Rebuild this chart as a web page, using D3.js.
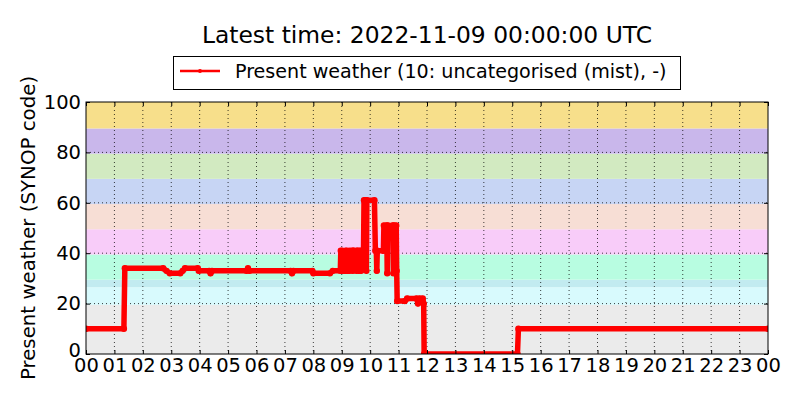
<!DOCTYPE html>
<html>
<head>
<meta charset="utf-8">
<script src="https://cdn.jsdelivr.net/npm/d3@7"></script>
<style>
  body { margin: 0; background: #fff; }
  text { font-family: "DejaVu Sans", sans-serif; fill: #000; }
</style>
</head>
<body>
<div id="chart"></div>
<script>
var obs_times = [
  "00:00","01:20","01:22","02:43","02:50","02:57","03:19","03:24","03:29","03:56",
  "03:58","04:20","04:23","04:26","05:39","05:42","05:45","07:12","07:15","07:18",
  "07:58","08:00","08:35","08:41","08:57","08:58","09:01","09:02","09:07","09:08",
  "09:11","09:12","09:16","09:17","09:22","09:23","09:24","09:26","09:31","09:32",
  "09:33","09:36","09:37","09:40","09:41","09:45","09:46","09:47","09:51","09:52",
  "09:53","10:09","10:11","10:13","10:14","10:15","10:28","10:29","10:35","10:36",
  "10:37","10:48","10:49","10:50","10:55","10:56","10:57","11:13","11:18","11:38",
  "11:41","11:44","11:51","11:53","11:54","15:11","15:13","24:00"
];
var obs_codes = [
  10,10,34,34,33,32,32,33,34,34,
  33,33,32,33,33,34,33,33,32,33,
  33,32,32,33,33,41,41,33,33,41,
  41,33,33,41,41,33,41,41,33,41,
  41,33,41,41,33,41,41,61,61,33,
  61,61,41,41,33,41,41,51,51,32,
  51,51,32,51,51,33,21,21,22,22,
  20,22,22,20,0,0,10,10
];

// background bands for the SYNOP code groups
var band_lo = [0, 19.5, 26.5, 29.5, 39.5, 49.5, 59.5, 69.5, 79.5, 89.5];
var band_hi = [19.5, 26.5, 29.5, 39.5, 49.5, 59.5, 69.5, 79.5, 89.5, 100];
var band_colors = ["#ebebeb","#d8fafd","#c2ebf0","#b8fde1","#f8ccf9","#f7ded5","#c7d5f4","#d2eac1","#c9b7eb","#f7df8b"];

var y_ticks = [0, 20, 40, 60, 80, 100];
var x_ticks = d3.range(0, 25);
var x_tick_labels = ["00","01","02","03","04","05","06","07","08","09","10","11",
                     "12","13","14","15","16","17","18","19","20","21","22","23","00"];

var title_text = "Latest time: 2022-11-09 00:00:00 UTC";
var legend_text = "Present weather (10: uncategorised (mist), -)";
var ylabel_text = "Present weather (SYNOP code)";

/************************ LAYOUT **********************************************/
var W = 800, H = 400;
var margin = {left: 86, right: 32, top: 102, bottom: 46};
var pw = W - margin.left - margin.right,
    ph = H - margin.top - margin.bottom;

function to_hours(s) {
  var p = s.split(":");
  return +p[0] + (+p[1]) / 60;
}
var data = obs_times.map(function(t, i) { return {h: to_hours(t), v: obs_codes[i]}; });

var x = d3.scaleLinear().domain([0, 24]).range([0, pw]);
var y = d3.scaleLinear().domain([0, 100]).range([ph, 0]);

var svg = d3.select("#chart").append("svg")
  .attr("width", W)
  .attr("height", H);

var g = svg.append("g")
  .attr("transform", "translate(" + margin.left + "," + margin.top + ")");

g.append("clipPath").attr("id", "plotclip")
  .append("rect").attr("width", pw).attr("height", ph);

// bands
g.selectAll("rect.band")
  .data(band_colors)
  .enter().append("rect")
  .attr("class", "band")
  .attr("x", 0)
  .attr("width", pw)
  .attr("y", function(d, i) { return y(band_hi[i]); })
  .attr("height", function(d, i) { return y(band_lo[i]) - y(band_hi[i]); })
  .attr("fill", function(d) { return d; });

// dotted grid
g.selectAll("line.xgrid")
  .data(x_ticks.slice(1, -1))
  .enter().append("line")
  .attr("x1", function(d) { return x(d); })
  .attr("x2", function(d) { return x(d); })
  .attr("y1", 0).attr("y2", ph)
  .attr("stroke", "#000").attr("stroke-width", 1)
  .attr("stroke-dasharray", "1,3").attr("opacity", 0.75);
g.selectAll("line.ygrid")
  .data(y_ticks.slice(1, -1))
  .enter().append("line")
  .attr("y1", function(d) { return y(d); })
  .attr("y2", function(d) { return y(d); })
  .attr("x1", 0).attr("x2", pw)
  .attr("stroke", "#000").attr("stroke-width", 1)
  .attr("stroke-dasharray", "1,3").attr("opacity", 0.75);

// series
var plot = g.append("g").attr("clip-path", "url(#plotclip)");
var line = d3.line()
  .x(function(d) { return x(d.h); })
  .y(function(d) { return y(d.v); });

plot.append("path")
  .datum(data)
  .attr("d", line)
  .attr("fill", "none")
  .attr("stroke", "#ff0000")
  .attr("stroke-width", 5.5)
  .attr("stroke-linejoin", "round");

plot.selectAll("circle")
  .data(data)
  .enter().append("circle")
  .attr("cx", function(d) { return x(d.h); })
  .attr("cy", function(d) { return y(d.v); })
  .attr("r", 3.2)
  .attr("fill", "#ff0000");

// axes, ticks pointing inward on all four sides
var fs = "19.5px";
var xAxis = g.append("g")
  .attr("transform", "translate(0," + ph + ")")
  .call(d3.axisBottom(x).tickValues(x_ticks)
    .tickFormat(function(d, i) { return x_tick_labels[i]; })
    .tickSizeInner(-4).tickSizeOuter(0).tickPadding(4));
var yAxis = g.append("g")
  .call(d3.axisLeft(y).tickValues(y_ticks)
    .tickSizeInner(-4).tickSizeOuter(0).tickPadding(5));
g.append("g")
  .call(d3.axisTop(x).tickValues(x_ticks).tickFormat("").tickSizeInner(-4).tickSizeOuter(0));
g.append("g")
  .attr("transform", "translate(" + pw + ",0)")
  .call(d3.axisRight(y).tickValues(y_ticks).tickFormat("").tickSizeInner(-4).tickSizeOuter(0));

g.selectAll(".domain").remove();
g.selectAll(".tick line").attr("stroke", "#000");
g.selectAll(".tick text")
  .style("font-family", "DejaVu Sans")
  .style("font-size", fs)
  .attr("fill", "#000");
// the bottom-left "0" sits a touch higher so it clears the "00" below
yAxis.selectAll(".tick text").filter(function(d) { return d === 0; }).attr("dy", "0.15em");

g.append("rect")
  .attr("width", pw).attr("height", ph)
  .attr("fill", "none").attr("stroke", "#000").attr("stroke-width", 1);

// y label
svg.append("text")
  .attr("transform", "translate(35," + (margin.top + ph / 2) + ") rotate(-90)")
  .attr("text-anchor", "middle")
  .style("font-size", "19.8px")
  .text(ylabel_text);

// title
svg.append("text")
  .attr("x", margin.left + pw / 2)
  .attr("y", 43)
  .attr("text-anchor", "middle")
  .style("font-size", "23.4px")
  .text(title_text);

// legend
var leg = svg.append("g");
leg.append("rect")
  .attr("x", 173.5).attr("y", 56.5)
  .attr("width", 507).attr("height", 33)
  .attr("fill", "#fff").attr("stroke", "#000").attr("stroke-width", 1);
leg.append("line")
  .attr("x1", 180).attr("x2", 220)
  .attr("y1", 71).attr("y2", 71)
  .attr("stroke", "#ff0000").attr("stroke-width", 2.5);
leg.append("circle")
  .attr("cx", 200).attr("cy", 71).attr("r", 2)
  .attr("fill", "#ff0000");
leg.append("text")
  .attr("x", 235).attr("y", 78)
  .style("font-size", "19.1px")
  .text(legend_text);
</script>
</body>
</html>
